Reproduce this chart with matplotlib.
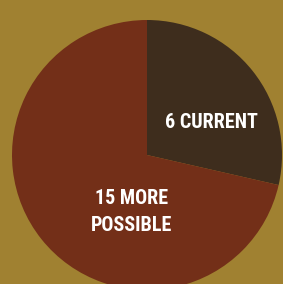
import matplotlib.pyplot as plt

# данные
labels = ['6 CURRENT', '15 MORE\nPOSSIBLE']
values = [6, 15]
colors = ['#3E2D1D', '#732F18']
bg_color = '#A08131'

fig = plt.figure(figsize=(2.83, 2.84), dpi=100)
fig.patch.set_facecolor(bg_color)
ax = fig.add_axes([0, 0, 1, 1])
ax.set_facecolor(bg_color)

# пирог в пиксельных координатах
ax.pie(values, colors=colors, startangle=90, counterclock=False,
       center=(147, 129), radius=135, frame=True,
       wedgeprops={'linewidth': 0})
ax.set_xlim(0, 283)
ax.set_ylim(0, 284)
ax.set_aspect('equal')
ax.axis('off')

font = ['Roboto Condensed', 'Roboto', 'DejaVu Sans']
ax.text(211, 162, labels[0], color='white', fontsize=14.5, fontweight='bold',
        family=font, ha='center', va='center', fontstretch='condensed')
ax.text(132, 72, labels[1], color='white', fontsize=14.5, fontweight='bold',
        family=font, ha='center', va='center', linespacing=1.5,
        fontstretch='condensed')

fig.savefig('out.png', dpi=100, facecolor=bg_color)
